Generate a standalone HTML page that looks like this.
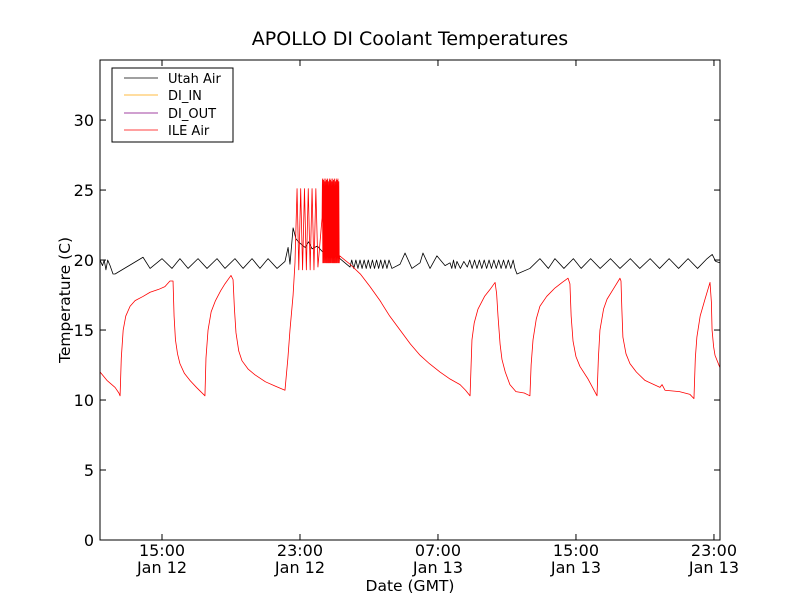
<!DOCTYPE html>
<html><head><meta charset="utf-8"><style>
body{margin:0;background:#fff}
svg text{font-family:"DejaVu Sans","Liberation Sans",sans-serif;fill:#000}
</style></head><body>
<svg id="chart" width="800" height="600" xmlns="http://www.w3.org/2000/svg">
<rect width="800" height="600" fill="#fff"/>
<text x="410" y="45" font-size="19" text-anchor="middle">APOLLO DI Coolant Temperatures</text>
<g id="marks"></g>
<rect x="100" y="60" width="620" height="480" fill="none" stroke="#000" stroke-width="1"/>
<g id="axes"></g>
<text x="410" y="591" font-size="15.5" text-anchor="middle">Date (GMT)</text>
<text transform="translate(70,300) rotate(-90)" font-size="15.5" text-anchor="middle">Temperature (C)</text>
<g>
<rect x="112" y="68" width="121" height="74" fill="#fff" stroke="#000" stroke-width="1"/>
<line x1="124" y1="78" x2="158" y2="78" stroke="#000" stroke-width="0.7"/>
<text x="168" y="83" font-size="13">Utah Air</text>
<line x1="124" y1="95" x2="158" y2="95" stroke="#ffa500" stroke-width="0.7"/>
<text x="168" y="100" font-size="13">DI_IN</text>
<line x1="124" y1="113" x2="158" y2="113" stroke="#800080" stroke-width="0.7"/>
<text x="168" y="118" font-size="13">DI_OUT</text>
<line x1="124" y1="130" x2="158" y2="130" stroke="#ff0000" stroke-width="0.7"/>
<text x="168" y="135" font-size="13">ILE Air</text>
</g>
</svg>
<script>
// time in hours since Jan 12 00:00 GMT
const yTicks=[0,5,10,15,20,25,30];
const xTicks=[15,23,31,39,47];
const xTickTimes=["15:00","23:00","07:00","15:00","23:00"];
const xTickDates=["Jan 12","Jan 12","Jan 13","Jan 13","Jan 13"];
const utahT=[11.41,11.55,11.65,11.75,11.85,11.99,12.16,12.28,13.90,14.31,15.00,15.58,16.04,16.51,17.09,17.61,18.19,18.65,19.23,19.70,20.22,20.68,21.15,21.67,22.13,22.31,22.42,22.60,22.77,23.0,23.3,23.5,23.7,24.0,24.3,24.6,25.0,25.32,25.90,
26.00,26.12,26.24,26.36,26.48,26.60,26.72,26.84,26.96,27.08,27.20,27.32,27.44,27.56,27.68,27.80,27.92,28.04,28.16,28.33,
28.80,29.09,29.49,29.96,30.13,30.54,30.94,31.41,31.70,31.80,31.90,32.00,32.10,32.30,32.50,32.70,
32.84,32.98,33.12,33.26,33.40,33.54,33.68,33.82,33.96,34.10,34.24,34.38,34.52,34.66,34.80,34.94,35.08,35.22,35.36,35.46,
35.58,36.33,36.91,37.40,37.78,38.30,38.85,39.30,39.85,40.40,41.00,41.55,42.15,42.70,43.30,43.85,44.40,44.95,45.50,46.05,46.60,46.90,47.10,47.35];
const utahV=[20.0,19.6,20.0,19.3,20.0,19.6,19.0,19.0,20.2,19.4,20.1,19.4,20.1,19.4,20.1,19.4,20.1,19.4,20.1,19.4,20.1,19.4,20.1,19.4,19.9,20.9,19.7,22.3,21.5,21.2,20.9,21.3,20.8,21.0,20.6,20.5,20.3,20.1,19.5,
20.0,19.4,20.0,19.4,20.0,19.4,20.0,19.4,20.0,19.4,20.0,19.4,20.0,19.4,20.0,19.4,20.0,19.4,20.0,19.4,
19.7,20.5,19.4,19.8,20.5,19.4,20.3,19.6,19.8,19.4,20.0,19.4,19.9,19.4,19.9,19.5,
20.0,19.4,20.0,19.4,20.0,19.4,20.0,19.4,20.0,19.4,20.0,19.4,20.0,19.4,20.0,19.4,20.0,19.4,20.0,19.4,
19.0,19.4,20.1,19.4,20.1,19.4,20.1,19.4,20.1,19.4,20.1,19.4,20.1,19.4,20.1,19.4,20.1,19.4,20.1,19.4,20.1,20.4,19.9,19.8];
const ileT=[11.41,11.81,12.28,12.50,12.57,12.64,12.75,12.90,13.15,13.44,13.90,14.31,14.80,15.17,15.46,15.64,15.70,15.78,15.90,16.04,16.30,16.62,17.00,17.49,
17.55,17.67,17.85,18.10,18.40,18.65,19.00,19.12,19.20,19.29,19.45,19.64,20.00,20.39,21.00,21.55,22.13,22.30,22.42,22.60,22.71,
22.83,22.93,23.04,23.15,23.26,23.37,23.48,23.59,23.70,23.81,23.92,24.04,24.28,
24.30,24.325,24.35,24.375,24.40,24.425,24.45,24.475,24.50,24.525,24.55,24.575,24.60,24.625,24.65,24.675,24.70,24.725,24.75,24.775,24.80,24.825,24.85,24.875,24.90,24.925,24.95,24.975,25.00,25.025,25.05,25.075,25.10,25.125,25.15,25.175,25.20,25.225,25.25,25.275,25.30,
25.60,25.90,26.50,27.06,27.64,28.20,28.80,29.40,29.96,30.50,31.12,31.70,32.28,32.60,32.86,32.92,32.97,33.10,33.32,33.70,34.02,34.31,34.40,34.48,34.60,34.71,34.90,35.17,35.52,36.00,36.33,
36.40,36.51,36.70,36.91,37.30,37.78,38.20,38.54,38.65,38.72,38.83,39.00,39.23,39.70,40.22,
40.30,40.39,40.60,40.80,41.20,41.55,41.61,41.66,41.72,41.90,42.13,42.50,43.00,43.87,43.99,44.16,45.00,45.61,45.84,
45.92,46.01,46.20,46.48,46.77,46.85,46.89,46.98,47.06,47.35];
const ileV=[12.0,11.4,10.9,10.5,10.3,13.0,15.0,16.0,16.7,17.1,17.4,17.7,17.9,18.1,18.5,18.5,16.0,14.3,13.3,12.6,11.9,11.4,10.9,10.3,
13.0,15.0,16.3,17.1,17.8,18.3,18.9,18.6,16.5,14.8,13.5,12.8,12.2,11.8,11.3,11.0,10.7,13.0,15.0,17.5,19.8,
25.1,19.3,25.1,19.3,25.1,19.3,25.1,19.3,25.1,19.3,25.1,19.5,23.0,
25.8,19.8,25.7,19.8,25.8,19.8,25.6,19.8,25.8,19.8,25.7,19.8,25.8,19.8,25.6,19.8,25.8,19.8,25.7,19.8,25.8,19.8,25.6,19.8,25.8,19.8,25.7,19.8,25.8,19.8,25.6,19.8,25.8,19.8,25.7,19.8,25.8,19.8,25.6,19.8,20.3,
20.0,19.7,19.0,18.1,17.1,16.0,15.0,14.0,13.2,12.6,12.0,11.5,11.1,10.7,10.3,12.5,14.3,15.5,16.5,17.4,17.9,18.4,17.6,16.0,14.0,12.9,12.0,11.1,10.6,10.5,10.3,
12.5,14.3,15.8,16.7,17.4,18.0,18.4,18.7,18.3,16.0,14.2,13.1,12.4,11.5,10.3,
13.0,15.0,16.5,17.2,18.0,18.7,18.5,16.5,14.5,13.3,12.6,12.0,11.4,10.9,11.1,10.7,10.6,10.4,10.1,
13.0,14.5,16.0,17.2,18.4,17.0,15.0,13.8,13.2,12.3];
const X0=11.406,X1=47.35,Y0=0,Y1=34.29;
const sx=h=>100+(h-X0)/(X1-X0)*620;
const sy=v=>540-(v-Y0)/(Y1-Y0)*480;
const NS="http://www.w3.org/2000/svg";
const marks=document.getElementById('marks'),axes=document.getElementById('axes');
function mk(tag,attrs,parent){const e=document.createElementNS(NS,tag);for(const k in attrs)e.setAttribute(k,attrs[k]);parent.appendChild(e);return e;}
function line(T,V,color,name){
  const p=mk('polyline',{points:T.map((t,i)=>sx(t).toFixed(2)+','+sy(V[i]).toFixed(2)).join(' '),fill:'none',stroke:color,'stroke-width':0.8,'stroke-linejoin':'round'},marks);
  
  
}
line(utahT,utahV,'#000','utah-air-line');
line(ileT,ileV,'#ff0000','ile-air-line');
yTicks.forEach(v=>{
  const y=sy(v);
  mk('line',{x1:100,y1:y,x2:106,y2:y,stroke:'#000'},axes);
  mk('line',{x1:714,y1:y,x2:720,y2:y,stroke:'#000'},axes);
  const t=mk('text',{x:94,y:y+6,'font-size':16,'text-anchor':'end'},axes);
  t.textContent=v;
  
  
});
xTicks.forEach((h,i)=>{
  const x=sx(h);
  mk('line',{x1:x,y1:540,x2:x,y2:534,stroke:'#000'},axes);
  mk('line',{x1:x,y1:60,x2:x,y2:66,stroke:'#000'},axes);
  const t=mk('text',{x:x,y:556,'font-size':16,'text-anchor':'middle'},axes);
  t.textContent=xTickTimes[i];
  
  
  const d=mk('text',{x:x,y:573,'font-size':16,'text-anchor':'middle'},axes);
  d.textContent=xTickDates[i];
  
  
});
</script>
</body></html>
